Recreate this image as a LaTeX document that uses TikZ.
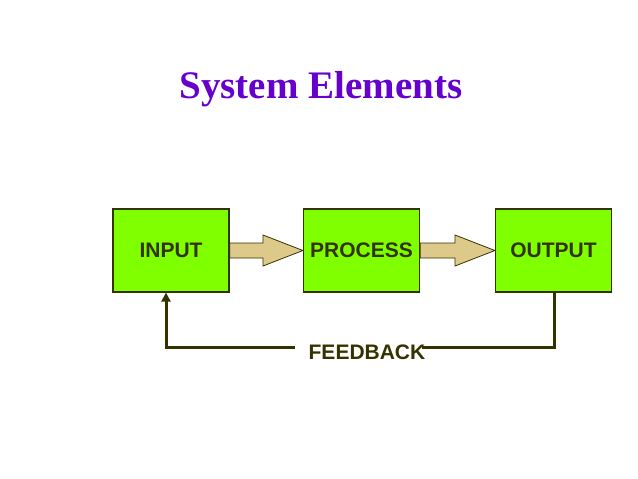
\documentclass[tikz,border=0pt]{standalone}
\usepackage{fontspec}
\setmainfont{Liberation Sans}
\newfontfamily\titlefont{Liberation Serif}
\usetikzlibrary{arrows.meta}
\definecolor{boxgreen}{HTML}{80FF00}
\definecolor{olive}{HTML}{333300}
\definecolor{tan}{HTML}{DDC98A}
\definecolor{titlepurple}{HTML}{6600CC}
\begin{document}
\begin{tikzpicture}[x=1pt,y=-1pt,
  elem/.style={draw=olive,line width=1.2pt,fill=boxgreen,minimum width=116pt,minimum height=83pt,inner sep=0pt,
    font=\fontsize{21}{24}\selectfont\bfseries,text=olive},
  fatarrow/.style={draw=olive,line width=0.8pt,fill=tan},
  fb/.style={draw=olive,line width=3pt}]
\useasboundingbox (0,0) rectangle (638,479);
\node[font=\titlefont\fontsize{39}{44}\selectfont\bfseries,text=titlepurple] (title) at (321,89) {System Elements};
\node[elem] (in) at (171,250.5) {INPUT};
\node[elem] (proc) at (361.5,250.5) {PROCESS};
\node[elem] (out) at (553.5,250.5) {OUTPUT};
\node[font=\fontsize{21}{24}\selectfont\bfseries,text=olive,inner sep=0pt] (fbt) at (367,352) {FEEDBACK};
% fat arrows
\draw[fatarrow] (in.east |- 0,243) -- (263,243) -- (263,235) -- (proc.west) -- (263,266) -- (263,258) -- (in.east |- 0,258) -- cycle;
\draw[fatarrow] (proc.east |- 0,243) -- (455,243) -- (455,235) -- (out.west) -- (455,266) -- (455,258) -- (proc.east |- 0,258) -- cycle;
% feedback
\coordinate (fr) at (554,347);
\coordinate (fl) at (166,347);
\coordinate (fre) at (422,347);
\coordinate (fle) at (295,347);
\draw[fb] (out.south -| fr) -- (fr) -- (fre);
\draw[fb,-{Triangle[length=9pt,width=9pt]}] (fle) -- (fl) -- (in.south -| fl);
\end{tikzpicture}
\end{document}
